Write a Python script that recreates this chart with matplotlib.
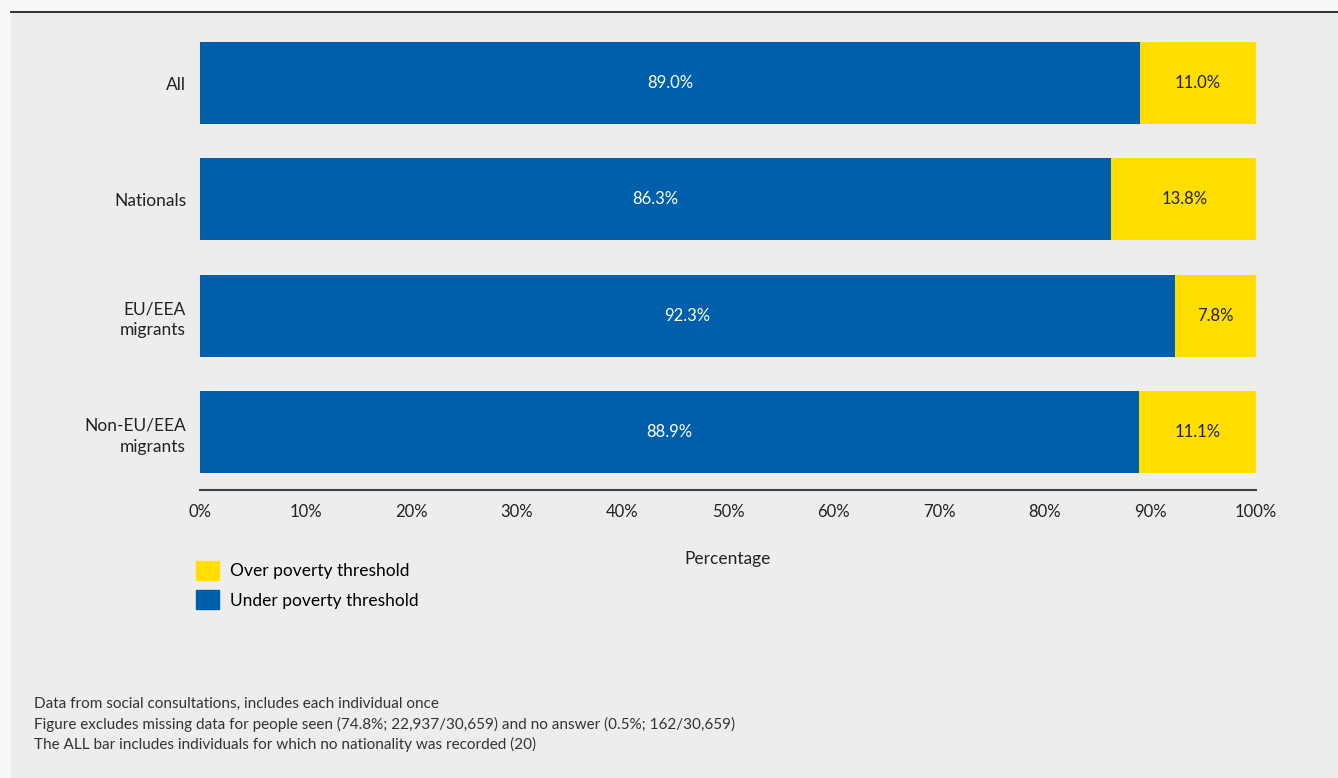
import matplotlib as mpl
mpl.use('Agg')
import matplotlib.pyplot as plt
from matplotlib.patches import Rectangle, Patch
from matplotlib.lines import Line2D

# data
groups = ['All', 'Nationals', 'EU/EEA\nmigrants', 'Non-EU/EEA\nmigrants']
under = [89.0, 86.3, 92.3, 88.9]
over = [11.0, 13.8, 7.8, 11.1]
ticks = [0, 10, 20, 30, 40, 50, 60, 70, 80, 90, 100]
notes = ['Data from social consultations, includes each individual once',
         'Figure excludes missing data for people seen (74.8%; 22,937/30,659) and no answer (0.5%; 162/30,659)',
         'The ALL bar includes individuals for which no nationality was recorded (20)']

BLUE = '#005EAB'
YELLOW = '#FFDE00'
PANEL = '#EDEDED'
OUTER = '#F7F7F7'
TXT = '#222222'

plt.rcParams['font.family'] = ['Lato', 'DejaVu Sans']

W, H = 1338, 778
fig = plt.figure(figsize=(W / 100, H / 100), dpi=100)
fig.patch.set_facecolor(OUTER)

# grey panel with black top rule
fig.patches.append(Rectangle((11 / W, 0), 1, 1 - 12 / H, transform=fig.transFigure,
                             facecolor=PANEL, edgecolor='none', zorder=-10))
fig.lines.append(Line2D([11 / W, 1], [1 - 12 / H, 1 - 12 / H], transform=fig.transFigure,
                        color='#222222', lw=1.3))

ax = fig.add_axes([200 / W, 1 - 473 / H, 1056 / W, 431 / H])
ax.set_facecolor('none')

h = 0.705
ypos = list(range(len(groups)))
ax.barh(ypos, under, height=h, color=BLUE, label='Under poverty threshold')
ax.barh(ypos, over, left=under, height=h, color=YELLOW, label='Over poverty threshold')

for y, u, o in zip(ypos, under, over):
    ax.text(u / 2, y, '{:.1f}%'.format(u), ha='center', va='center', color='white', fontsize=12)
    ax.text(u + o / 2, y, '{:.1f}%'.format(o), ha='center', va='center', color=TXT, fontsize=12)

ax.set_xlim(0, 100)
ax.set_ylim(len(groups) - 1 + h / 2, -h / 2)
ax.set_yticks(ypos)
ax.set_yticklabels(groups, linespacing=1.4)
ax.tick_params(axis='y', length=0, pad=10, labelsize=12.5, labelcolor=TXT)
ax.set_xticks(ticks)
ax.set_xticklabels(['{}%'.format(t) for t in ticks])
ax.tick_params(axis='x', length=0, pad=10, labelsize=12, labelcolor=TXT)
ax.set_xlabel('Percentage', fontsize=12.5, color=TXT, labelpad=22)

for s in ['top', 'right', 'left']:
    ax.spines[s].set_visible(False)
ax.spines['bottom'].set_position(('outward', 12.5))
ax.spines['bottom'].set_color('#444444')
ax.spines['bottom'].set_linewidth(1.5)

handles = [Patch(color=YELLOW, label='Over poverty threshold'),
           Patch(color=BLUE, label='Under poverty threshold')]
fig.legend(handles=handles, loc='upper left', bbox_to_anchor=(189 / W, 1 - 554 / H),
           frameon=False, fontsize=12.5, handlelength=1.35, handleheight=1.35,
           handletextpad=0.6, labelspacing=0.55, borderaxespad=0)

for i, line in enumerate(notes):
    fig.text(34 / W, 1 - (704 + 20 * i) / H, line, fontsize=11, color='#333333',
             va='center', ha='left')

fig.savefig('out.png', dpi=100, facecolor=fig.get_facecolor())
